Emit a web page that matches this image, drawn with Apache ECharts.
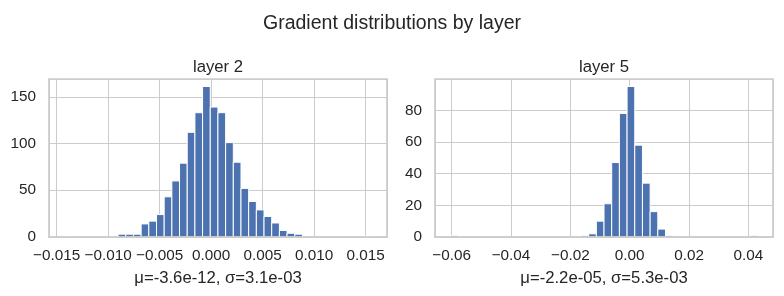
<!DOCTYPE html>
<html><head><meta charset="utf-8">
<script src="https://cdn.jsdelivr.net/npm/echarts@6/dist/echarts.min.js"></script>
<style>html,body{margin:0;padding:0;background:#fff}#c{width:784px;height:296px}</style>
</head><body><div id="c"></div>
<script>
// ---- data ----
const suptitle = 'Gradient distributions by layer';
const layerTitles = ['layer 2', 'layer 5'];
const xAxisLabels = ['μ=-3.6e-12, σ=3.1e-03', 'μ=-2.2e-05, σ=5.3e-03'];

// layer 2 histogram: 40 bins
const layer2Counts = [1,0,0,0,0,0,1,3,3,3,14,17,24,43,60,79,112,133,161,139,
                      133,101,80,52,38,29,22,15,7,4,3,0,0,0,0,0,0,0,0,1];
const layer2BinStart = -0.01426;
const layer2BinWidth = 0.000746;
const layer2XRange = [-0.01575, 0.01708];
const layer2YTicks = [0, 50, 100, 150];

// layer 5 histogram: 40 bins
const layer5Counts = [1,0,0,0,0,0,0,0,0,0,0,0,0,0,0,0,0,1,2,10,
                      21,47,78,95,58,34,16,5,1,0,0,0,0,0,0,0,0,0,0,1];
const layer5BinStart = -0.06044;
const layer5BinWidth = 0.002589;
const layer5XRange = [-0.06562, 0.04828];
const layer5YTicks = [0, 20, 40, 60, 80];

// ---- build ----
const FONT = '"Liberation Sans", Arial, sans-serif';
const TXT = '#262626';
const GRIDC = '#cccccc';

function binData(counts, start, width) {
  return counts.map((c, i) => [start + i * width, start + (i + 1) * width, c]);
}
function renderItem(params, api) {
  const x0 = api.value(0), x1 = api.value(1), c = api.value(2);
  if (!c) return null;
  const p0 = api.coord([x0, 0]);
  const p1 = api.coord([x1, c]);
  return {
    type: 'rect',
    shape: { x: p0[0], y: p1[1], width: p1[0] - p0[0], height: p0[1] - p1[1] },
    style: { fill: '#4C72B0', stroke: '#ffffff', lineWidth: 1 }
  };
}
const grids = [
  { left: 49, top: 79, width: 338, height: 158 },
  { left: 435, top: 79, width: 338, height: 158 }
];
const panels = [
  { counts: layer2Counts, start: layer2BinStart, width: layer2BinWidth, xr: layer2XRange, yt: layer2YTicks, dec: 3 },
  { counts: layer5Counts, start: layer5BinStart, width: layer5BinWidth, xr: layer5XRange, yt: layer5YTicks, dec: 2 }
];

const option = {
  backgroundColor: '#ffffff',
  animation: false,
  title: { text: suptitle, left: 'center', top: 9,
    textStyle: { fontSize: 19.5, fontWeight: 'normal', color: TXT, fontFamily: FONT } },
  graphic: grids.map((g, i) => ({
    type: 'text', x: g.left + g.width / 2, y: 67,
    style: { text: layerTitles[i], fontSize: 16.7, fontFamily: FONT, fill: TXT,
      align: 'center', verticalAlign: 'middle' }
  })),
  grid: grids.map(g => Object.assign({ show: true, borderColor: GRIDC, borderWidth: 1.75,
    backgroundColor: '#ffffff' }, g)),
  xAxis: [],
  yAxis: [],
  series: []
};

panels.forEach((p, i) => {
  const ymax = Math.max(...p.counts) * 1.05;
  option.xAxis.push({
    type: 'value', gridIndex: i, min: p.xr[0], max: p.xr[1], splitNumber: 5,
    name: xAxisLabels[i], nameLocation: 'middle', nameGap: 33,
    nameTextStyle: { fontSize: 16.7, color: TXT, fontFamily: FONT },
    axisLine: { show: false }, axisTick: { show: false },
    axisLabel: { margin: 11, fontSize: 15.3, color: TXT, fontFamily: FONT,
      showMinLabel: false, showMaxLabel: false,
      formatter: v => v.toFixed(p.dec).replace('-', '\u2212').replace(/^\u22120\.0+$/, m => m.slice(1)) },
    splitLine: { show: true, lineStyle: { color: GRIDC, width: 1 } }
  });
  option.yAxis.push({
    type: 'value', gridIndex: i, min: 0, max: ymax, interval: p.yt[1] - p.yt[0],
    axisLine: { show: false }, axisTick: { show: false },
    axisLabel: { margin: 13, fontSize: 15.3, color: TXT, fontFamily: FONT, showMaxLabel: false },
    splitLine: { show: true, lineStyle: { color: GRIDC, width: 1 } }
  });
  option.series.push({
    type: 'custom', xAxisIndex: i, yAxisIndex: i, renderItem: renderItem,
    encode: { x: [0, 1], y: 2 },
    data: binData(p.counts, p.start, p.width)
  });
});
// bottom spines drawn above the bars (as matplotlib does)
panels.forEach((p, i) => {
  option.xAxis.push({
    type: 'value', gridIndex: i, min: p.xr[0], max: p.xr[1], position: 'bottom', z: 10,
    axisLine: { show: true, onZero: false, lineStyle: { color: GRIDC, width: 1.75 } },
    axisTick: { show: false }, axisLabel: { show: false }, splitLine: { show: false }
  });
});

const chart = echarts.init(document.getElementById('c'), null, { renderer: 'canvas' });
chart.setOption(option);
</script>
</body></html>
